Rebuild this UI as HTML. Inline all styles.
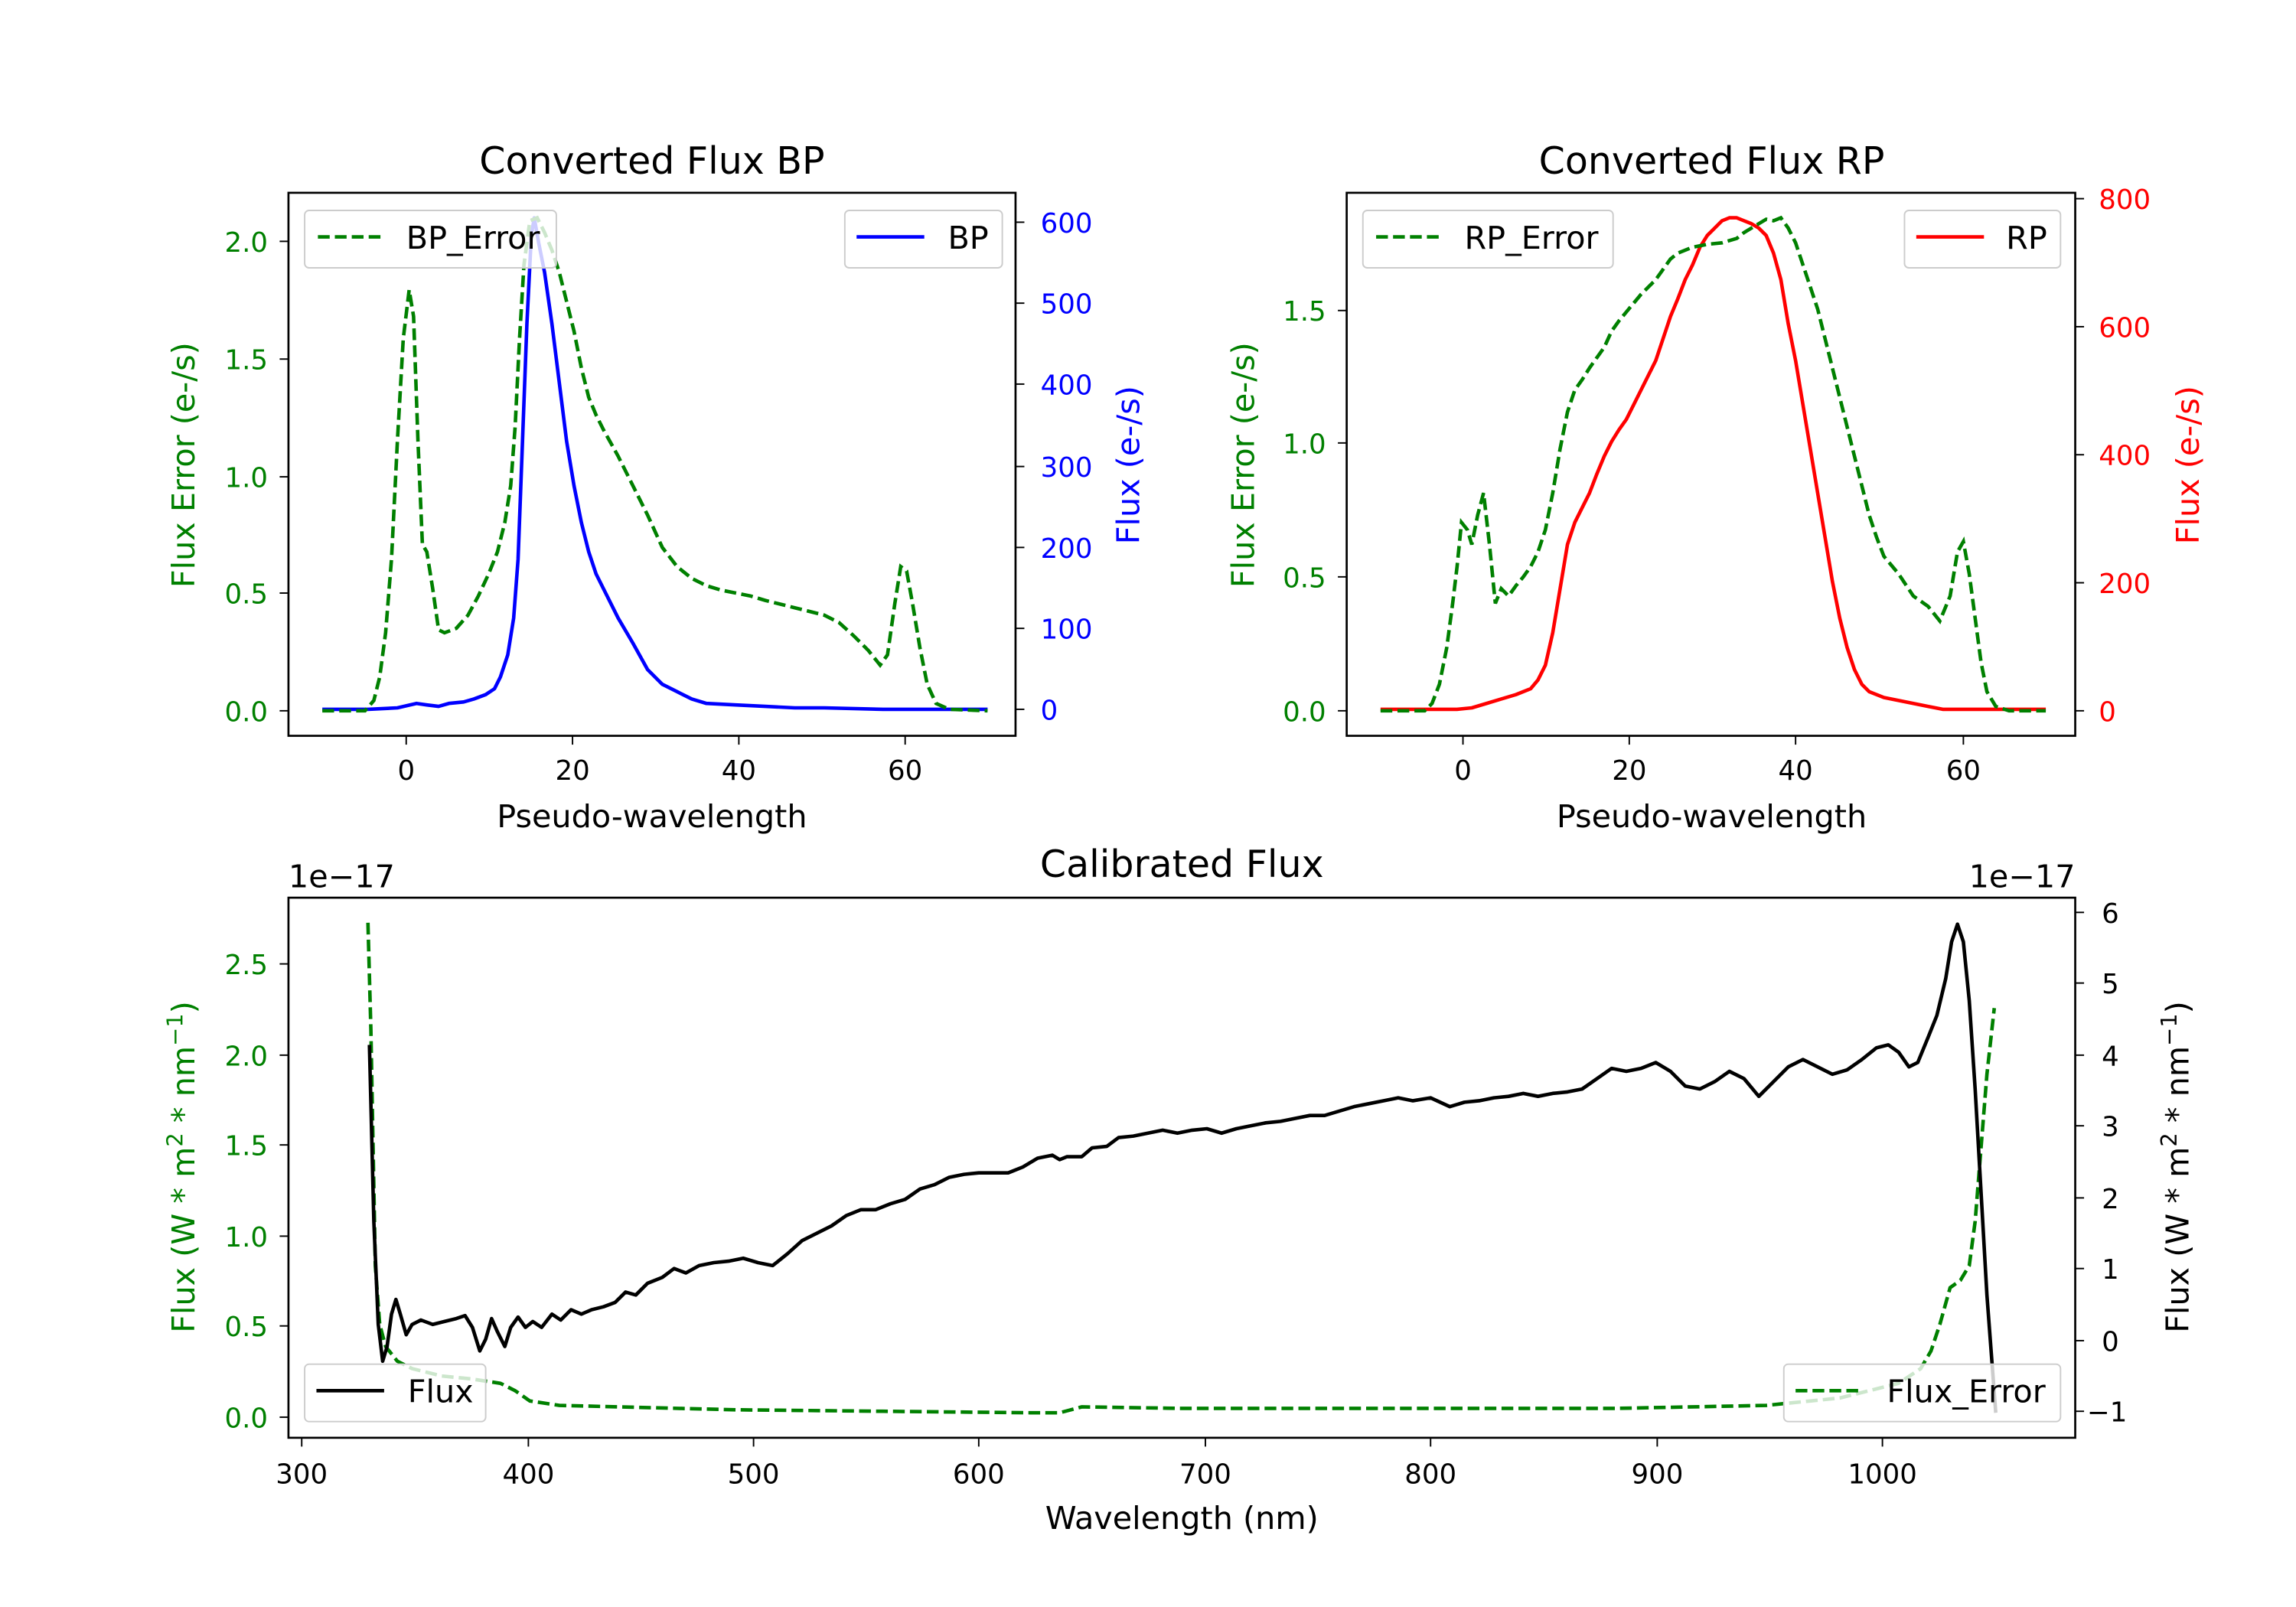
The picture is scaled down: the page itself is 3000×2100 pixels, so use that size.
<!DOCTYPE html>
<html><head><meta charset="utf-8"><style>
html,body{margin:0;padding:0;background:#fff}
svg{display:block}
text{font-family:"DejaVu Sans","Liberation Sans",sans-serif}
.l{font-size:21.5px}
</style></head><body>
<svg width="3000" height="2100" viewBox="0 0 1560 1092" xmlns="http://www.w3.org/2000/svg">
<rect width="1560" height="1092" fill="#fff"/>
<g font-size="18.5">
<!-- ===== BP ===== -->
<text x="443" y="118" font-size="25.5" text-anchor="middle">Converted Flux BP</text>
<polyline fill="none" stroke="#0000ff" stroke-width="2.4" stroke-linejoin="round" points="219,482 250,482 270,481 283,478 290,479 298,480 305,478 315,477 322,475 330,472 336,468 340,460 345,445 349,420 352,380 355,300 358,220 361,160 363,148 366,165 370,185 375,220 380,260 385,300 390,330 395,355 400,375 405,390 410,400 420,420 430,437 440,455 450,465 460,470 470,475 480,478 500,479 520,480 540,481 560,481 600,482 620,482 671,482"/>
<polyline fill="none" stroke="#008000" stroke-width="2.4" stroke-dasharray="8,3.5" points="219,483 248,483 254,476 258,460 262,430 266,380 270,300 274,230 278,197 281,215 284,300 287,370 290,375 294,400 298,428 302,430 310,427 318,418 325,405 332,390 338,375 343,355 347,330 350,290 353,230 356,180 360,150 365,148 370,158 375,170 380,185 385,205 390,225 395,250 400,270 405,282 410,292 420,310 430,330 440,350 450,372 460,385 470,393 480,398 490,401 500,403 510,405 520,408 540,413 560,418 570,423 580,432 590,442 598,452 603,445 608,410 612,385 616,388 620,410 625,440 630,465 636,478 645,482 671,483"/>
<rect x="196" y="131" width="494" height="369" fill="none" stroke="#000" stroke-width="1.4"/>
<rect x="207" y="143" width="171" height="39" rx="3" fill="#fff" fill-opacity="0.8" stroke="#ccc"/>
<line x1="216" y1="161" x2="260" y2="161" stroke="#008000" stroke-width="2.4" stroke-dasharray="8,3.5"/>
<text class="l" x="276" y="169">BP_Error</text>
<rect x="574" y="143" width="107" height="39" rx="3" fill="#fff" fill-opacity="0.8" stroke="#ccc"/>
<line x1="582" y1="161" x2="628" y2="161" stroke="#0000ff" stroke-width="2.4"/>
<text class="l" x="644" y="169">BP</text>
<g stroke="#000"><line x1="276" y1="500" x2="276" y2="506"/><line x1="389" y1="500" x2="389" y2="506"/><line x1="502" y1="500" x2="502" y2="506"/><line x1="615" y1="500" x2="615" y2="506"/></g>
<g text-anchor="middle"><text x="276" y="530">0</text><text x="389" y="530">20</text><text x="502" y="530">40</text><text x="615" y="530">60</text></g>
<text class="l" x="443" y="562" text-anchor="middle">Pseudo-wavelength</text>
<g stroke="#000"><line x1="190" y1="483" x2="196" y2="483"/><line x1="190" y1="403" x2="196" y2="403"/><line x1="190" y1="324" x2="196" y2="324"/><line x1="190" y1="244" x2="196" y2="244"/><line x1="190" y1="164" x2="196" y2="164"/></g>
<g fill="#008000" text-anchor="end"><text x="182" y="490">0.0</text><text x="182" y="410">0.5</text><text x="182" y="331">1.0</text><text x="182" y="251">1.5</text><text x="182" y="171">2.0</text></g>
<text class="l" transform="translate(132,316) rotate(-90)" fill="#008000" text-anchor="middle">Flux Error (e-/s)</text>
<g stroke="#000"><line x1="690" y1="482" x2="696" y2="482"/><line x1="690" y1="427" x2="696" y2="427"/><line x1="690" y1="372" x2="696" y2="372"/><line x1="690" y1="317" x2="696" y2="317"/><line x1="690" y1="261" x2="696" y2="261"/><line x1="690" y1="206" x2="696" y2="206"/><line x1="690" y1="151" x2="696" y2="151"/></g>
<g fill="#0000ff"><text x="707" y="489">0</text><text x="707" y="434">100</text><text x="707" y="379">200</text><text x="707" y="324">300</text><text x="707" y="268">400</text><text x="707" y="213">500</text><text x="707" y="158">600</text></g>
<text class="l" transform="translate(774,316) rotate(-90)" fill="#0000ff" text-anchor="middle">Flux (e-/s)</text>

<!-- ===== RP ===== -->
<text x="1163" y="118" font-size="25.5" text-anchor="middle">Converted Flux RP</text>
<polyline fill="none" stroke="#ff0000" stroke-width="2.4" stroke-linejoin="round" points="938,482 975,482 990,482 1000,481 1010,478 1020,475 1030,472 1040,468 1045,462 1050,452 1055,430 1060,400 1065,370 1070,355 1075,345 1080,335 1085,322 1090,310 1095,300 1100,292 1105,285 1110,275 1115,265 1120,255 1125,245 1130,230 1135,215 1140,203 1145,190 1150,180 1155,168 1160,160 1165,155 1170,150 1175,148 1180,148 1185,150 1190,152 1195,155 1200,160 1205,172 1210,190 1215,220 1220,245 1225,275 1230,305 1235,335 1240,365 1245,395 1250,420 1255,440 1260,455 1265,465 1270,470 1280,474 1290,476 1300,478 1310,480 1320,482 1390,482"/>
<polyline fill="none" stroke="#008000" stroke-width="2.4" stroke-dasharray="8,3.5" points="938,483 968,483 973,478 978,465 983,440 987,410 990,385 993,355 997,360 1000,370 1004,350 1008,335 1012,370 1016,410 1020,400 1025,405 1030,398 1035,392 1040,385 1045,375 1050,360 1055,335 1060,305 1065,280 1070,265 1075,258 1080,250 1085,243 1090,236 1095,225 1100,218 1105,212 1110,206 1115,200 1120,195 1125,190 1130,183 1135,176 1140,172 1150,168 1160,166 1170,165 1180,162 1185,158 1190,155 1195,152 1200,149 1205,150 1210,148 1215,155 1220,165 1225,180 1230,195 1235,210 1240,230 1245,250 1250,270 1255,290 1260,310 1265,330 1270,350 1275,365 1280,378 1290,390 1300,405 1310,412 1318,422 1325,405 1330,375 1334,368 1338,390 1342,420 1346,450 1350,470 1356,480 1365,483 1390,483"/>
<rect x="915" y="131" width="495" height="369" fill="none" stroke="#000" stroke-width="1.4"/>
<rect x="926" y="143" width="170" height="39" rx="3" fill="#fff" fill-opacity="0.8" stroke="#ccc"/>
<line x1="935" y1="161" x2="979" y2="161" stroke="#008000" stroke-width="2.4" stroke-dasharray="8,3.5"/>
<text class="l" x="995" y="169">RP_Error</text>
<rect x="1294" y="143" width="106" height="39" rx="3" fill="#fff" fill-opacity="0.8" stroke="#ccc"/>
<line x1="1302" y1="161" x2="1348" y2="161" stroke="#ff0000" stroke-width="2.4"/>
<text class="l" x="1363" y="169">RP</text>
<g stroke="#000"><line x1="994" y1="500" x2="994" y2="506"/><line x1="1107" y1="500" x2="1107" y2="506"/><line x1="1220" y1="500" x2="1220" y2="506"/><line x1="1334" y1="500" x2="1334" y2="506"/></g>
<g text-anchor="middle"><text x="994" y="530">0</text><text x="1107" y="530">20</text><text x="1220" y="530">40</text><text x="1334" y="530">60</text></g>
<text class="l" x="1163" y="562" text-anchor="middle">Pseudo-wavelength</text>
<g stroke="#000"><line x1="909" y1="483" x2="915" y2="483"/><line x1="909" y1="392" x2="915" y2="392"/><line x1="909" y1="301" x2="915" y2="301"/><line x1="909" y1="211" x2="915" y2="211"/></g>
<g fill="#008000" text-anchor="end"><text x="901" y="490">0.0</text><text x="901" y="399">0.5</text><text x="901" y="308">1.0</text><text x="901" y="218">1.5</text></g>
<text class="l" transform="translate(852,316) rotate(-90)" fill="#008000" text-anchor="middle">Flux Error (e-/s)</text>
<g stroke="#000"><line x1="1410" y1="483" x2="1416" y2="483"/><line x1="1410" y1="396" x2="1416" y2="396"/><line x1="1410" y1="309" x2="1416" y2="309"/><line x1="1410" y1="222" x2="1416" y2="222"/><line x1="1410" y1="135" x2="1416" y2="135"/></g>
<g fill="#ff0000"><text x="1426" y="490">0</text><text x="1426" y="403">200</text><text x="1426" y="316">400</text><text x="1426" y="229">600</text><text x="1426" y="142">800</text></g>
<text class="l" transform="translate(1494,316) rotate(-90)" fill="#ff0000" text-anchor="middle">Flux (e-/s)</text>

<!-- ===== Calibrated ===== -->
<text x="803" y="596" font-size="25.5" text-anchor="middle">Calibrated Flux</text>
<polyline fill="none" stroke="#008000" stroke-width="2.4" stroke-dasharray="8,3.5" points="250,627 252,700 255,860 258,900 262,915 270,925 280,930 300,935 320,937 340,940 350,945 360,952 380,955 420,956 500,958 600,959 700,960 720,960 735,956 800,957 1100,957 1200,955 1250,950 1290,940 1305,930 1312,918 1318,900 1325,875 1332,870 1338,860 1342,830 1346,780 1350,730 1355,685"/>
<polyline fill="none" stroke="#000" stroke-width="2.4" stroke-linejoin="round" points="251,710 254,830 257,900 260,925 263,915 266,893 269,883 272,893 276,907 280,900 286,897 294,900 302,898 310,896 316,894 321,902 326,918 330,910 334,896 338,905 343,915 347,902 352,895 357,902 362,898 368,902 375,893 381,897 388,890 395,893 402,890 410,888 418,885 425,878 432,880 440,872 450,868 458,862 466,865 475,860 485,858 495,857 505,855 515,858 525,860 535,852 545,843 555,838 565,833 575,826 585,822 595,822 605,818 615,815 625,808 635,805 645,800 655,798 665,797 675,797 685,797 695,793 705,787 715,785 720,788 725,786 735,786 742,780 752,779 760,773 770,772 780,770 790,768 800,770 810,768 820,767 830,770 840,767 850,765 860,763 870,762 880,760 890,758 900,758 910,755 920,752 930,750 940,748 950,746 960,748 972,746 985,752 995,749 1005,748 1015,746 1025,745 1035,743 1045,745 1055,743 1065,742 1075,740 1085,733 1095,726 1105,728 1115,726 1125,722 1135,728 1145,738 1155,740 1165,735 1175,728 1185,733 1195,745 1205,735 1215,725 1225,720 1235,725 1245,730 1255,727 1265,720 1275,712 1283,710 1290,715 1297,725 1303,722 1310,705 1316,690 1322,665 1326,640 1330,628 1334,640 1338,680 1342,740 1346,810 1350,880 1356,960"/>
<rect x="196" y="610" width="1214" height="367" fill="none" stroke="#000" stroke-width="1.4"/>
<rect x="207" y="927" width="123" height="39" rx="3" fill="#fff" fill-opacity="0.8" stroke="#ccc"/>
<line x1="215" y1="945" x2="261" y2="945" stroke="#000" stroke-width="2.4"/>
<text class="l" x="277" y="953">Flux</text>
<rect x="1212" y="927" width="188" height="39" rx="3" fill="#fff" fill-opacity="0.8" stroke="#ccc"/>
<line x1="1220" y1="945" x2="1266" y2="945" stroke="#008000" stroke-width="2.4" stroke-dasharray="8,3.5"/>
<text class="l" x="1282" y="953">Flux_Error</text>
<g stroke="#000"><line x1="205" y1="977" x2="205" y2="983"/><line x1="359" y1="977" x2="359" y2="983"/><line x1="512" y1="977" x2="512" y2="983"/><line x1="665" y1="977" x2="665" y2="983"/><line x1="819" y1="977" x2="819" y2="983"/><line x1="972" y1="977" x2="972" y2="983"/><line x1="1126" y1="977" x2="1126" y2="983"/><line x1="1279" y1="977" x2="1279" y2="983"/></g>
<g text-anchor="middle"><text x="205" y="1008">300</text><text x="359" y="1008">400</text><text x="512" y="1008">500</text><text x="665" y="1008">600</text><text x="819" y="1008">700</text><text x="972" y="1008">800</text><text x="1126" y="1008">900</text><text x="1279" y="1008">1000</text></g>
<text class="l" x="803" y="1039" text-anchor="middle">Wavelength (nm)</text>
<g stroke="#000"><line x1="190" y1="963" x2="196" y2="963"/><line x1="190" y1="901" x2="196" y2="901"/><line x1="190" y1="840" x2="196" y2="840"/><line x1="190" y1="778" x2="196" y2="778"/><line x1="190" y1="717" x2="196" y2="717"/><line x1="190" y1="655" x2="196" y2="655"/></g>
<g fill="#008000" text-anchor="end"><text x="182" y="970">0.0</text><text x="182" y="908">0.5</text><text x="182" y="847">1.0</text><text x="182" y="785">1.5</text><text x="182" y="724">2.0</text><text x="182" y="662">2.5</text></g>
<text class="l" x="196" y="603">1e−17</text>
<text class="l" transform="translate(132,793) rotate(-90)" fill="#008000" text-anchor="middle">Flux (W * m<tspan font-size="15" dy="-8">2</tspan><tspan dy="8"> * nm</tspan><tspan font-size="15" dy="-8">−1</tspan><tspan dy="8">)</tspan></text>
<g stroke="#000"><line x1="1410" y1="959" x2="1416" y2="959"/><line x1="1410" y1="911" x2="1416" y2="911"/><line x1="1410" y1="862" x2="1416" y2="862"/><line x1="1410" y1="814" x2="1416" y2="814"/><line x1="1410" y1="765" x2="1416" y2="765"/><line x1="1410" y1="717" x2="1416" y2="717"/><line x1="1410" y1="668" x2="1416" y2="668"/><line x1="1410" y1="620" x2="1416" y2="620"/></g>
<g><text x="1418" y="966">−1</text><text x="1428" y="918">0</text><text x="1428" y="869">1</text><text x="1428" y="821">2</text><text x="1428" y="772">3</text><text x="1428" y="724">4</text><text x="1428" y="675">5</text><text x="1428" y="627">6</text></g>
<text class="l" x="1410" y="603" text-anchor="end">1e−17</text>
<text class="l" transform="translate(1487,793) rotate(-90)" text-anchor="middle">Flux (W * m<tspan font-size="15" dy="-8">2</tspan><tspan dy="8"> * nm</tspan><tspan font-size="15" dy="-8">−1</tspan><tspan dy="8">)</tspan></text>
</g>
</svg>
</body></html>
